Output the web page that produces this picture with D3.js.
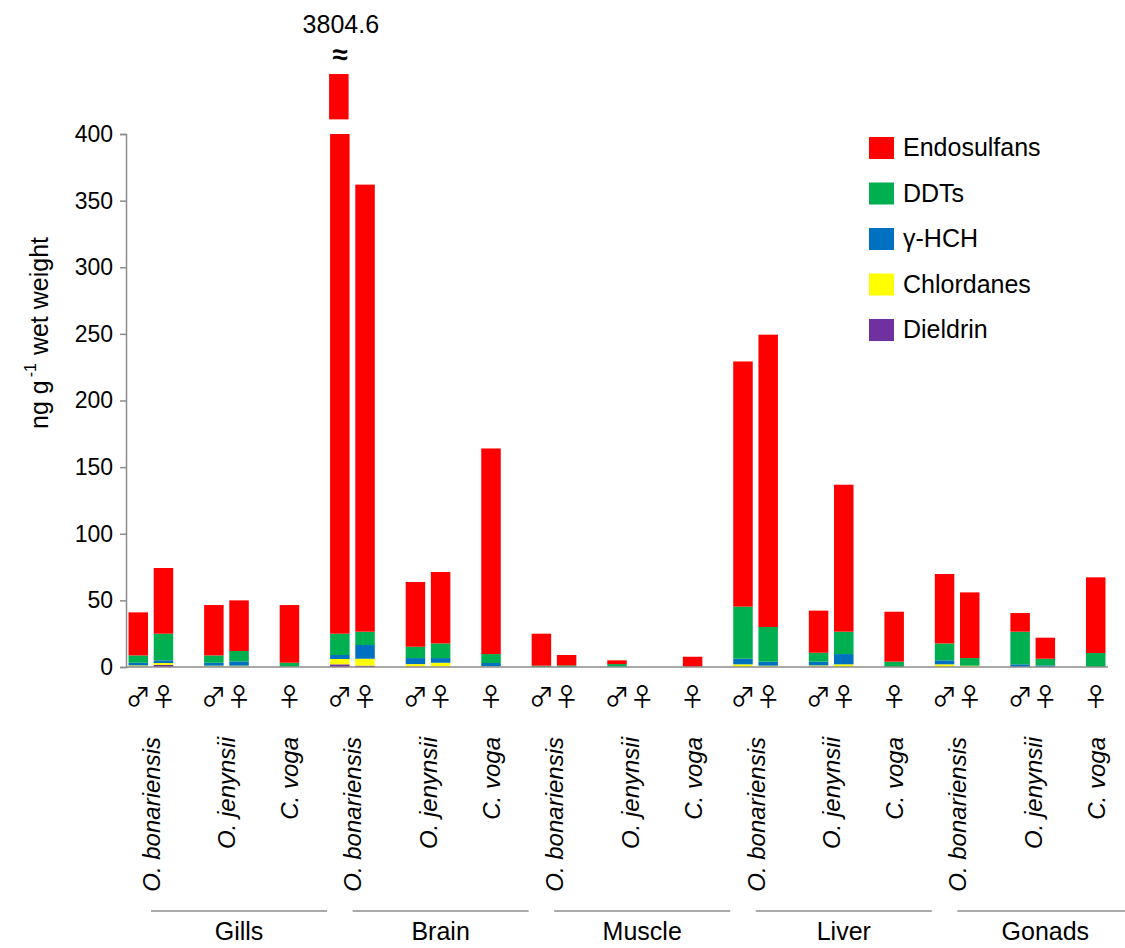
<!DOCTYPE html>
<html>
<head>
<meta charset="utf-8">
<script src="https://cdn.jsdelivr.net/npm/d3@7"></script>
<style>
  body { margin: 0; background: #fff; }
  svg text { font-family: "Liberation Sans", Arial, sans-serif; fill: #000; }
</style>
</head>
<body>
<div id="chart"></div>
<script>
// categories
var organs = ["Gills", "Brain", "Muscle", "Liver", "Gonads"];
var species = ["O. bonariensis", "O. jenynsii", "C. voga"];
var sexes = [["\u2642", "\u2640"], ["\u2642", "\u2640"], ["\u2640"]];
var series = ["Dieldrin", "Chlordanes", "\u03b3-HCH", "DDTs", "Endosulfans"];
var legendOrder = ["Endosulfans", "DDTs", "\u03b3-HCH", "Chlordanes", "Dieldrin"];
var seriesColors = {
  "Endosulfans": "#ff0000",
  "DDTs": "#00b050",
  "\u03b3-HCH": "#0070c0",
  "Chlordanes": "#ffff00",
  "Dieldrin": "#7030a0"
};
var yTicks = [0, 50, 100, 150, 200, 250, 300, 350, 400];

// values in bar order: per organ -> O.bon m, O.bon f, O.jen m, O.jen f, C.voga f
var endosulfans = [32.3, 49.3, 37.8, 38.0, 43.3,
                   3779.6, 335.5, 48.6, 53.6, 154.3,
                   24.0, 7.8, 2.8, 0, 7.5,
                   184.0, 219.4, 31.6, 110.3, 37.5,
                   52.1, 49.3, 14.0, 15.8, 56.8];
var ddts = [5.5, 20.0, 5.5, 7.8, 3.0,
            16.0, 10.0, 8.5, 11.0, 6.7,
            1.0, 1.2, 2.0, 0, 0.2,
            39.1, 26.0, 6.7, 16.8, 4.0,
            12.7, 5.7, 24.5, 5.0, 10.5];
var hch = [2.0, 2.0, 2.2, 3.2, 0.1,
           3.0, 10.3, 4.5, 3.5, 2.5,
           0, 0, 0.2, 0, 0,
           4.2, 3.0, 2.8, 7.7, 0,
           3.0, 0, 2.0, 1.2, 0];
var chlordanes = [0.9, 1.5, 0.7, 0.8, 0.1,
                  4.0, 5.2, 1.9, 2.9, 0.3,
                  0, 0, 0, 0, 0,
                  2.0, 1.0, 1.0, 2.0, 0,
                  2.0, 1.0, 0, 0, 0];
var dieldrin = [0.3, 1.5, 0.3, 0.2, 0,
                2.0, 1.0, 0.3, 0.3, 0.2,
                0, 0, 0, 0, 0,
                0, 0, 0.2, 0, 0,
                0, 0, 0, 0, 0];
var brokenTotal = "3804.6";
var breakStub = [411, 445];

var width = 1125, height = 948;
var yMax = 400;

// slots: each species gets its sexes then a gap
var slots = [];
var bars = [];
organs.forEach(function(org, oi) {
  species.forEach(function(sp, si) {
    sexes[si].forEach(function(sx) {
      var id = org + "|" + sp + "|" + sx;
      slots.push(id);
      bars.push({ id: id, organ: org, species: sp, sex: sx });
    });
    slots.push(org + "|" + sp + "|gap");
  });
});
slots.pop();

bars.forEach(function(b, i) {
  b["Endosulfans"] = endosulfans[i];
  b["DDTs"] = ddts[i];
  b["\u03b3-HCH"] = hch[i];
  b["Chlordanes"] = chlordanes[i];
  b["Dieldrin"] = dieldrin[i];
});

var svg = d3.select("#chart").append("svg")
  .attr("width", width)
  .attr("height", height);

var x = d3.scaleBand()
  .domain(slots)
  .range([126, 1108])
  .paddingInner(0.226)
  .paddingOuter(0.1);

var y = d3.scaleLinear()
  .domain([0, yMax])
  .range([667, 134]);

// y axis
var yAxis = svg.append("g")
  .attr("transform", "translate(126,0)")
  .call(d3.axisLeft(y).tickValues(yTicks).tickSize(6).tickPadding(7));
yAxis.select(".domain").attr("stroke", "#8c8c8c").attr("stroke-width", 1.5);
yAxis.selectAll(".tick line").attr("stroke", "#8c8c8c").attr("stroke-width", 1.5);
yAxis.selectAll(".tick text")
  .attr("font-size", 23)
  .attr("font-family", "'Liberation Sans', Arial, sans-serif")
  .attr("fill", "#000");

// stacked bars
var stack = d3.stack().keys(series);
var layers = stack(bars);

svg.append("g").selectAll("g")
  .data(layers)
  .enter().append("g")
  .attr("fill", function(d) { return seriesColors[d.key]; })
  .selectAll("rect")
  .data(function(d) { return d; })
  .enter().append("rect")
  .attr("x", function(d) { return x(d.data.id); })
  .attr("width", x.bandwidth())
  .attr("y", function(d) { return y(Math.min(d[1], yMax)); })
  .attr("height", function(d) {
    return Math.max(0, y(Math.min(d[0], yMax)) - y(Math.min(d[1], yMax)));
  });

// broken bar stub and label
var broken = bars.filter(function(b) {
  return b.Endosulfans + b.DDTs + b["\u03b3-HCH"] + b.Chlordanes + b.Dieldrin > yMax;
})[0];
var bx = x(broken.id);
svg.append("rect")
  .attr("x", bx - 1)
  .attr("width", x.bandwidth())
  .attr("y", y(breakStub[1]))
  .attr("height", y(breakStub[0]) - y(breakStub[1]))
  .attr("fill", seriesColors["Endosulfans"]);
svg.append("text")
  .attr("x", bx + x.bandwidth() / 2)
  .attr("y", 64)
  .attr("text-anchor", "middle")
  .attr("font-size", 28)
  .attr("font-weight", "bold")
  .text("\u2248");
svg.append("text")
  .attr("x", bx + x.bandwidth() / 2 + 1)
  .attr("y", 33)
  .attr("text-anchor", "middle")
  .attr("font-size", 25)
  .text(brokenTotal);

// baseline
svg.append("line")
  .attr("x1", 126).attr("x2", 1108)
  .attr("y1", y(0)).attr("y2", y(0))
  .attr("stroke", "#8c8c8c")
  .attr("stroke-width", 1.5);

// sex symbols
svg.append("g").selectAll("text")
  .data(bars)
  .enter().append("text")
  .attr("x", function(d) { return x(d.id) + x.bandwidth() / 2; })
  .attr("y", 706)
  .attr("text-anchor", "middle")
  .style("font-family", "'Noto Sans CJK JP', 'DejaVu Sans', sans-serif")
  .attr("font-size", 25)
  .text(function(d) { return d.sex; });

// species labels
var speciesLabels = [];
organs.forEach(function(org) {
  species.forEach(function(sp, si) {
    var ids = sexes[si].map(function(sx) { return org + "|" + sp + "|" + sx; });
    var cx = d3.mean(ids, function(id) { return x(id) + x.bandwidth() / 2; });
    speciesLabels.push({ name: sp, cx: cx });
  });
});
svg.append("g").selectAll("text")
  .data(speciesLabels)
  .enter().append("text")
  .attr("transform", function(d) { return "translate(" + (d.cx + 9) + ",737) rotate(-90)"; })
  .attr("text-anchor", "end")
  .attr("font-size", 24)
  .attr("font-style", "italic")
  .text(function(d) { return d.name; });

// organ lines and labels
var organG = svg.append("g").selectAll("g")
  .data(organs)
  .enter().append("g")
  .attr("transform", function(d, i) {
    var id = slots[i * 8 + 4];
    return "translate(" + (x(id) + x.bandwidth() / 2) + ",0)";
  });
organG.append("line")
  .attr("x1", -88).attr("x2", 88)
  .attr("y1", 911).attr("y2", 911)
  .attr("stroke", "#8c8c8c")
  .attr("stroke-width", 1.5);
organG.append("text")
  .attr("y", 940)
  .attr("text-anchor", "middle")
  .attr("font-size", 25)
  .text(function(d) { return d; });

// y axis title
var title = svg.append("text")
  .attr("transform", "translate(48,333) rotate(-90)")
  .attr("text-anchor", "middle")
  .attr("font-size", 25);
title.append("tspan").text("ng g");
title.append("tspan").attr("dy", -12).attr("dx", 3).attr("font-size", 16).text("-1");
title.append("tspan").attr("dy", 12).attr("dx", 8).text("wet weight");

// legend
var legend = svg.append("g").selectAll("g")
  .data(legendOrder)
  .enter().append("g")
  .attr("transform", function(d, i) { return "translate(869," + (137 + i * 45.5) + ")"; });
legend.append("rect")
  .attr("width", 25)
  .attr("height", 22)
  .attr("fill", function(d) { return seriesColors[d]; });
legend.append("text")
  .attr("x", 34)
  .attr("y", 19)
  .attr("font-size", 25)
  .text(function(d) { return d; });
</script>
</body>
</html>
